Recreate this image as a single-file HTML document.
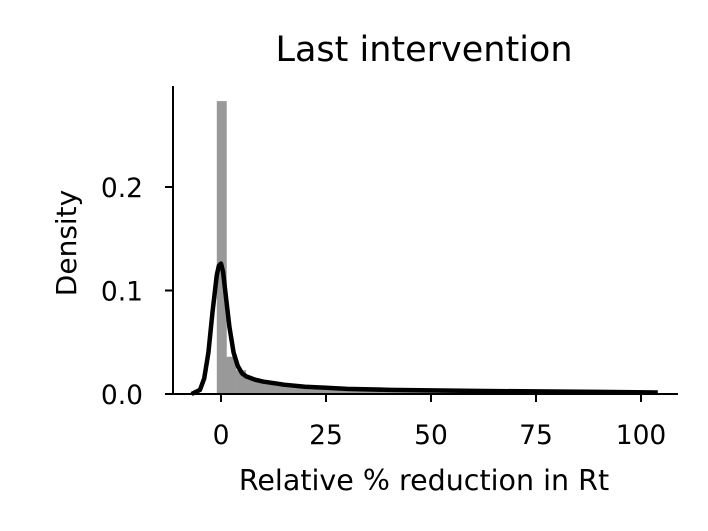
<!DOCTYPE html>
<html><head><meta charset="utf-8"><style>
body{margin:0;background:#fff}
svg{display:block;font-family:"DejaVu Sans","Liberation Sans",sans-serif}
</style></head><body>
<svg id="chart" width="708" height="531">
<text x="424" y="61" text-anchor="middle" font-size="35" fill="#000">Last intervention</text>
<text x="424" y="490" text-anchor="middle" font-size="28.5" fill="#000">Relative % reduction in Rt</text>
<text transform="translate(76,243) rotate(-90)" text-anchor="middle" font-size="28" fill="#000">Density</text>
<g id="bars"></g><g id="kde"></g><g id="axes"></g>
</svg>
<script>
const binEdgesStart = -1;
const binWidth = 2.3;
const histValues = [0.283, 0.036, 0.023, 0.016, 0.012, 0.010, 0.008, 0.007, 0.006, 0.006, 0.005, 0.005, 0.004, 0.004, 0.004, 0.004, 0.003, 0.003, 0.003, 0.003, 0.003, 0.003, 0.003, 0.002, 0.002, 0.002, 0.002, 0.002, 0.002, 0.002, 0.002, 0.002, 0.002, 0.002, 0.002, 0.002, 0.002, 0.002, 0.002, 0.002, 0.002, 0.002, 0.002, 0.001, 0.001];
const kdeX = [-7, -5, -4, -3, -2, -1, -0.5, 0, 0.5, 1, 2, 3, 4, 5, 6, 8, 10, 15, 20, 25, 30, 40, 50, 60, 75, 90, 104];
const kdeY = [0, 0.004, 0.015, 0.04, 0.08, 0.115, 0.124, 0.126, 0.118, 0.1, 0.065, 0.04, 0.027, 0.02, 0.017, 0.014, 0.012, 0.009, 0.007, 0.006, 0.005, 0.004, 0.0035, 0.003, 0.0025, 0.002, 0.0015];
const xTicks = [0, 25, 50, 75, 100];
const yTicks = [0.0, 0.1, 0.2];
const yTickLabels = ["0.0", "0.1", "0.2"];

const NS = "http://www.w3.org/2000/svg";
const X = v => 221 + v * 4.2;
const Y = v => 394 - v * 1035;
function mk(tag, attrs, parent){const e=document.createElementNS(NS,tag);for(const k in attrs)e.setAttribute(k,attrs[k]);parent.appendChild(e);return e;}
const bars=document.getElementById('bars'), kde=document.getElementById('kde'), axes=document.getElementById('axes');
histValues.forEach((h,i)=>{
  const x0=X(binEdgesStart+i*binWidth), x1=X(binEdgesStart+(i+1)*binWidth);
  const r=mk('rect',{x:x0,y:Y(h),width:x1-x0+0.3,height:Y(0)-Y(h),fill:'#999'},bars);
  
  
});
const p=mk('path',{d:kdeX.map((x,i)=>(i?'L':'M')+X(x)+','+Y(kdeY[i])).join(''),fill:'none',stroke:'#000','stroke-width':4.5,'stroke-linejoin':'round'},kde);


const ls=mk('line',{x1:173,y1:86,x2:173,y2:395,stroke:'#000','stroke-width':2},axes);


const bs=mk('line',{x1:172,y1:394,x2:678,y2:394,stroke:'#000','stroke-width':2},axes);


xTicks.forEach(t=>{
  mk('line',{x1:X(t),y1:394,x2:X(t),y2:402,stroke:'#000','stroke-width':2},axes);
  const tx=mk('text',{x:X(t),y:444,'text-anchor':'middle','font-size':26.5},axes);
  tx.textContent=t;
  
  
});
yTicks.forEach((t,i)=>{
  mk('line',{x1:165,y1:Y(t),x2:173,y2:Y(t),stroke:'#000','stroke-width':2},axes);
  const tx=mk('text',{x:143,y:Y(t)+10,'text-anchor':'end','font-size':26.5},axes);
  tx.textContent=yTickLabels[i];
  
  
});
</script>
</body></html>
